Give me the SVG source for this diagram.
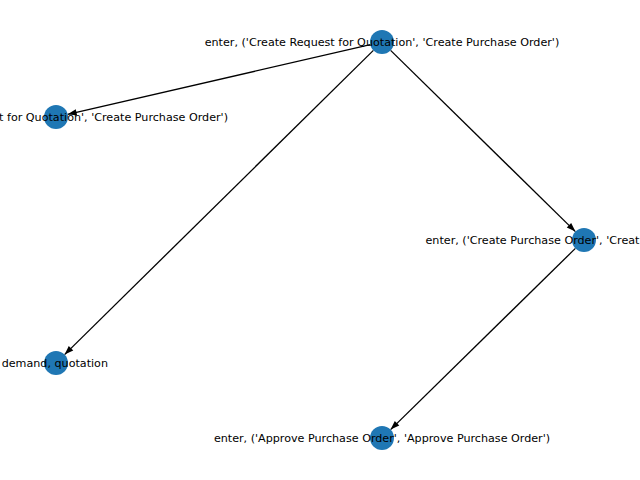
<svg xmlns="http://www.w3.org/2000/svg" width="640" height="480" viewBox="0 0 640 480">
<style>
.edge{stroke:#000;stroke-width:1.3;fill:none;marker-end:url(#arr)}
.node{fill:#1f77b4}
.lbl{font-family:"DejaVu Sans",sans-serif;font-size:11.15px;fill:#000}
</style>
<defs>
<marker id="arr" markerUnits="userSpaceOnUse" markerWidth="12" markerHeight="10" refX="0" refY="0" viewBox="-10 -5 12 10" orient="auto">
<path d="M0,0 L-9,-3.2 L-9,3.2 z" fill="#000"/>
</marker>
</defs>
<rect width="640" height="480" fill="#fff"/>
<g id="edges">
<line class="edge" x1="370.3" y1="44.7" x2="67.7" y2="114.3"/>
<line class="edge" x1="373.4" y1="50.4" x2="64.6" y2="354.6"/>
<line class="edge" x1="390.6" y1="50.4" x2="575.4" y2="231.6"/>
<line class="edge" x1="575.4" y1="248.4" x2="390.6" y2="429.6"/>
</g>
<g id="n1"><circle class="node" cx="382" cy="42" r="12"/><text class="lbl" x="382" y="46" text-anchor="middle">enter, ('Create Request for Quotation', 'Create Purchase Order')</text></g>
<g id="n2"><circle class="node" cx="56" cy="117" r="12"/><text class="lbl" x="228" y="121" text-anchor="end">t for Quotation', 'Create Purchase Order')</text></g>
<g id="n3"><circle class="node" cx="56" cy="363" r="12"/><text class="lbl" x="108" y="367" text-anchor="end">demand, quotation</text></g>
<g id="n4"><circle class="node" cx="584" cy="240" r="12"/><text class="lbl" x="425.5" y="244" text-anchor="start">enter, ('Create Purchase Order', 'Creat</text></g>
<g id="n5"><circle class="node" cx="382" cy="438" r="12"/><text class="lbl" x="382" y="442" text-anchor="middle">enter, ('Approve Purchase Order', 'Approve Purchase Order')</text></g>
</svg>
